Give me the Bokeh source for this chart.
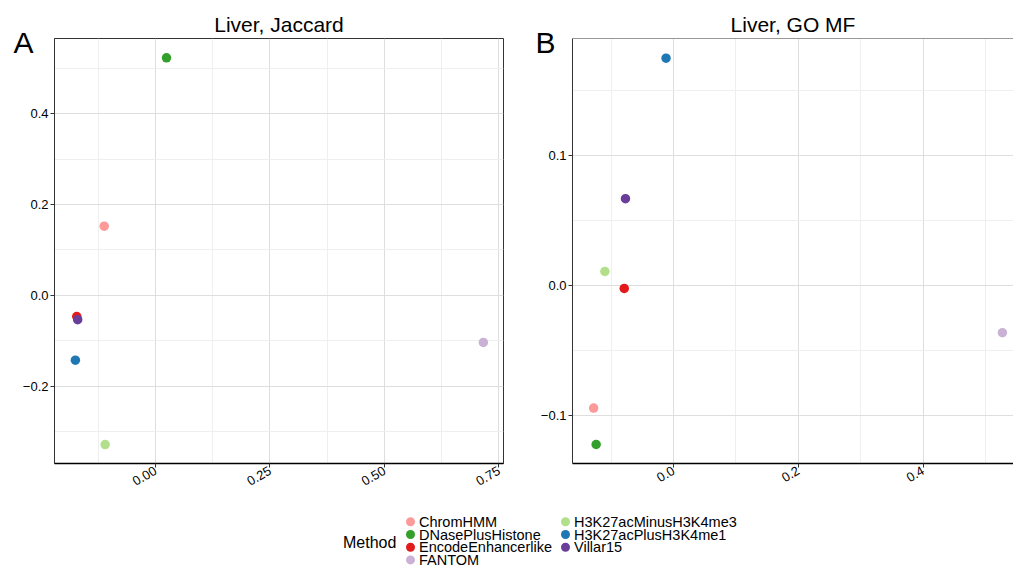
from bokeh.plotting import figure
from bokeh.models import Range1d, FixedTicker, Span, Label, ColumnDataSource
from bokeh.layouts import column, row
from bokeh.embed import file_html
from bokeh.resources import INLINE
from bokeh.core.properties import value

FONT = "Liberation Sans"

# ---- data ----
methods = ["ChromHMM", "DNasePlusHistone", "EncodeEnhancerlike", "FANTOM",
           "H3K27acMinusH3K4me3", "H3K27acPlusH3K4me1", "Villar15"]
colors = ["#FB9A99", "#33A02C", "#E31A1C", "#CAB2D6", "#B2DF8A", "#1F78B4", "#6A3D9A"]

jac_x = [-0.112, 0.024, -0.172, 0.716, -0.110, -0.175, -0.170]
jac_y = [0.152, 0.523, -0.047, -0.104, -0.329, -0.143, -0.054]

gomf_x = [-0.128, -0.124, -0.079, 0.527, -0.110, -0.012, -0.077]
gomf_y = [-0.094, -0.122, -0.002, -0.036, 0.011, 0.175, 0.067]

jac_xticks = [0.0, 0.25, 0.5, 0.75]
jac_xlabels = ["0.00", "0.25", "0.50", "0.75"]
jac_xminor = [-0.125, 0.125, 0.375, 0.625]
jac_yticks = [-0.2, 0.0, 0.2, 0.4]
jac_ylabels = ["\u22120.2", "0.0", "0.2", "0.4"]
jac_yminor = [-0.3, -0.1, 0.1, 0.3, 0.5]

go_xticks = [0.0, 0.2, 0.4]
go_xlabels = ["0.0", "0.2", "0.4"]
go_xminor = [-0.1, 0.1, 0.3, 0.5]
go_yticks = [-0.1, 0.0, 0.1]
go_ylabels = ["\u22120.1", "0.0", "0.1"]
go_yminor = [-0.05, 0.05, 0.15]

panel_letters = ["A", "B"]


def style(p, xt, xl, xm, yt, yl, ym):
    p.title.text_font = FONT
    p.title.text_font_size = "21px"
    p.title.text_font_style = "normal"
    p.title.align = "center"
    p.title.text_color = "black"
    p.title.standoff = 6
    p.background_fill_color = "white"
    p.border_fill_color = None
    p.xaxis.ticker = FixedTicker(ticks=xt, minor_ticks=xm)
    p.yaxis.ticker = FixedTicker(ticks=yt, minor_ticks=ym)
    p.xaxis.major_label_overrides = dict(zip(xt, xl))
    p.yaxis.major_label_overrides = dict(zip(yt, yl))
    for ax in (p.xaxis, p.yaxis):
        ax.major_label_text_font = FONT
        ax.major_label_text_font_size = "13px"
        ax.major_label_text_color = "black"
        ax.major_tick_in = 0
        ax.major_tick_out = 4
        ax.major_tick_line_color = "#333333"
        ax.minor_tick_line_color = None
        ax.major_label_standoff = 2
    p.xaxis.major_label_orientation = 0.5236
    p.yaxis.axis_line_color = "#333333"
    p.xaxis.axis_line_color = "black"
    p.xaxis.axis_line_width = 1.3
    for g in (p.xgrid, p.ygrid):
        g.grid_line_color = "#DEDEDE"
        g.grid_line_width = 1
        g.minor_grid_line_color = "#EFEFEF"
        g.minor_grid_line_width = 1


# ---- Panel-letter strip (drawn underneath the panels' transparent borders) ----
STRIP_H = 70
pT = figure(width=1013, height=STRIP_H, x_range=Range1d(0, 1013), y_range=Range1d(STRIP_H, 0),
            min_border=0, toolbar_location=None, output_backend="svg")
pT.axis.visible = False
pT.grid.visible = False
pT.outline_line_color = None
pT.background_fill_color = "white"
pT.border_fill_color = "white"
srcT = ColumnDataSource(dict(x=[13, 535], y=[41.5, 41.5], t=panel_letters))
pT.text("x", "y", text="t", source=srcT, text_font=value(FONT), text_font_size="30px",
        text_baseline="middle", text_align="left", text_color="black")

# ---- Panel A ----
pA = figure(width=515, height=500, title="Liver, Jaccard",
            x_range=Range1d(-0.2206, 0.760), y_range=Range1d(-0.3707, 0.5655),
            min_border_left=54, min_border_right=12, min_border_top=38, min_border_bottom=37,
            toolbar_location=None, output_backend="svg")
style(pA, jac_xticks, jac_xlabels, jac_xminor, jac_yticks, jac_ylabels, jac_yminor)
pA.outline_line_color = "#333333"
pA.outline_line_width = 1
srcA = ColumnDataSource(dict(x=jac_x, y=jac_y, c=colors, m=methods))
pA.scatter("x", "y", source=srcA, size=9.5, fill_color="c", line_color=None)

# ---- Panel B ----
pB = figure(width=498, height=500, title="Liver, GO MF",
            x_range=Range1d(-0.1619, 0.5448), y_range=Range1d(-0.1366, 0.1901),
            min_border_left=57, min_border_right=0, min_border_top=38, min_border_bottom=33,
            toolbar_location=None, output_backend="svg")
style(pB, go_xticks, go_xlabels, go_xminor, go_yticks, go_ylabels, go_yminor)
pB.title.offset = 5
pB.outline_line_color = None
pB.add_layout(Span(location=0.1901, dimension="width", line_color="#333333", line_width=1))
srcB = ColumnDataSource(dict(x=gomf_x, y=gomf_y, c=colors, m=methods))
pB.scatter("x", "y", source=srcB, size=9.5, fill_color="c", line_color=None)

# ---- Legend strip ----
pL = figure(width=1013, height=67, x_range=Range1d(0, 1013), y_range=Range1d(67, 0),
            min_border=0, toolbar_location=None, output_backend="svg")
pL.axis.visible = False
pL.grid.visible = False
pL.outline_line_color = None
pL.background_fill_color = "white"
pL.border_fill_color = "white"

col_dot = [410, 565]
col_txt = [418.5, 573.5]
row_y = [21.3, 34.0, 46.7, 59.4]
lx, ly, tx = [], [], []
for i, m in enumerate(methods):
    c, r = divmod(i, 4)
    lx.append(col_dot[c]); ly.append(row_y[r]); tx.append(col_txt[c])
srcL = ColumnDataSource(dict(x=lx, y=ly, tx=tx, c=colors, m=methods))
pL.scatter("x", "y", source=srcL, size=9, fill_color="c", line_color=None)
pL.text("tx", "y", text="m", source=srcL, text_font=value(FONT), text_font_size="14.5px",
        text_baseline="middle", text_align="left", text_color="black")
pL.add_layout(Label(x=342.5, y=42.0, text="Method", text_font=FONT,
                    text_font_size="16px", text_baseline="middle", text_color="black"))

panels = row(pA, pB, spacing=0, margin=(-STRIP_H, 0, 0, 0))
layout = column(pT, panels, pL, spacing=0)
open("out.html", "w").write(file_html(layout, INLINE))
